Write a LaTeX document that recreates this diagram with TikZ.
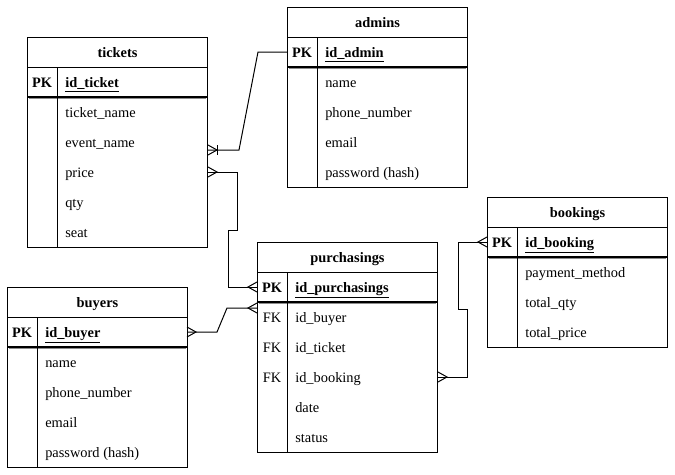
\documentclass[tikz,border=0pt]{standalone}
\usepackage{fontspec}
\setmainfont{Liberation Serif}
\usetikzlibrary{calc}
\tikzset{
  tblframe/.style={draw, line width=0.75pt, anchor=north west, inner sep=0pt,
    minimum width=135pt, fill=white},
  ttl/.style={font=\bfseries\fontsize{10.8}{12}\selectfont, inner sep=0pt, anchor=base},
  keytxt/.style={font=\bfseries\fontsize{10.8}{12}\selectfont, inner sep=0pt, anchor=base},
  fktxt/.style={font=\fontsize{10.8}{12}\selectfont, inner sep=0pt, anchor=base},
  pktxt/.style={font=\bfseries\fontsize{10.8}{12}\selectfont, inner sep=0pt, anchor=base west},
  fld/.style={font=\fontsize{10.8}{12}\selectfont, inner sep=0pt, anchor=base west},
  rule/.style={line width=0.75pt},
  pkrule/.style={line width=0.9pt},
  pkshadow/.style={line width=1pt, black!45},
  conn/.style={line width=0.75pt, line join=miter},
  crowfoot/.pic={\draw[conn] (0,-5) -- (9,0) -- (0,5);},
  crowone/.pic={\draw[conn] (0,-5) -- (9,0) -- (0,5); \draw[conn] (9.5,-5) -- (9.5,5);}
}
\newcommand\ertbl[6]{%
  \node[tblframe, minimum height={#4*0.75pt}] (#1) at (#2,#3) {};
  \node[ttl] (#1-t) at ($(#1.north)+(0,20)$) {#5};
  \draw[rule] ($(#1.north west)+(0,30)$) -- ($(#1.north east)+(0,30)$);
  \draw[pkshadow] ($(#1.north west)+(2,61)$) -- ($(#1.north east)+(-2,61)$);
  \draw[pkrule] ($(#1.north west)+(0,60)$) -- ($(#1.north east)+(0,60)$);
  \draw[rule] ($(#1.north west)+(30,30)$) -- ($(#1.south west)+(30,0)$);
  \node[keytxt] (#1-pk) at ($(#1.north west)+(15,50)$) {PK};
  \node[pktxt] (#1-id) at ($(#1.north west)+(38,50)$) {\underline{#6}};
}
\newcommand\erfld[3]{%
  \node[fld] (#1-f#2) at ($(#1.north west)+(38,{50+30*#2})$) {#3};
}
\newcommand\erfk[2]{%
  \node[fktxt] (#1-k#2) at ($(#1.north west)+(15,{50+30*#2})$) {FK};
}
\begin{document}
\begin{tikzpicture}[x=0.75pt, y=-0.75pt]
\useasboundingbox[fill=white] (0,0) rectangle (675,475);

% tickets
\ertbl{tickets}{27}{37}{210}{tickets}{id\_ticket}
\erfld{tickets}{1}{ticket\_name}
\erfld{tickets}{2}{event\_name}
\erfld{tickets}{3}{price}
\erfld{tickets}{4}{qty}
\erfld{tickets}{5}{seat}

% admins
\ertbl{admins}{287}{7}{180}{admins}{id\_admin}
\erfld{admins}{1}{name}
\erfld{admins}{2}{phone\_number}
\erfld{admins}{3}{email}
\erfld{admins}{4}{password (hash)}

% bookings
\ertbl{bookings}{487}{197}{150}{bookings}{id\_booking}
\erfld{bookings}{1}{payment\_method}
\erfld{bookings}{2}{total\_qty}
\erfld{bookings}{3}{total\_price}

% purchasings
\ertbl{purch}{257}{242}{210}{purchasings}{id\_purchasings}
\erfk{purch}{1}\erfld{purch}{1}{id\_buyer}
\erfk{purch}{2}\erfld{purch}{2}{id\_ticket}
\erfk{purch}{3}\erfld{purch}{3}{id\_booking}
\erfld{purch}{4}{date}
\erfld{purch}{5}{status}

% buyers
\ertbl{buyers}{7}{287}{180}{buyers}{id\_buyer}
\erfld{buyers}{1}{name}
\erfld{buyers}{2}{phone\_number}
\erfld{buyers}{3}{email}
\erfld{buyers}{4}{password (hash)}

% connector coordinates on the table edges
\coordinate (c1s) at ($(tickets.north east)+(0,113)$);
\coordinate (c1e) at ($(admins.north west)+(0,45)$);
\coordinate (c2s) at ($(tickets.north east)+(0,135)$);
\coordinate (c2e) at ($(purch.north west)+(0,45)$);
\coordinate (c3s) at ($(buyers.north west)+(180,45)$);
\coordinate (c3e) at ($(purch.north west)+(0,66)$);
\coordinate (c4s) at ($(purch.north east)+(0,135)$);
\coordinate (c4e) at ($(bookings.north west)+(0,45)$);

% tickets -- admins
\draw[conn] (c1s) -- ++(31,0) -- (258,52) -- (c1e);
\pic at (c1s) {crowone};
% tickets -- purchasings
\draw[conn] (c2s) -- (237,172) -- (237,230) -- (228,230) -- (228,287) -- (c2e);
\pic at (c2s) {crowfoot};
\pic[xscale=-1] at (c2e) {crowfoot};
% buyers -- purchasings
\draw[conn] (c3s) -- (217,332) -- (227,308) -- (c3e);
\pic at (c3s) {crowfoot};
\pic[xscale=-1] at (c3e) {crowfoot};
% purchasings -- bookings
\draw[conn] (c4s) -- (467,377) -- (467,309) -- (458,309) -- (458,242) -- (c4e);
\pic at (c4s) {crowfoot};
\pic[xscale=-1] at (c4e) {crowfoot};
\end{tikzpicture}
\end{document}
